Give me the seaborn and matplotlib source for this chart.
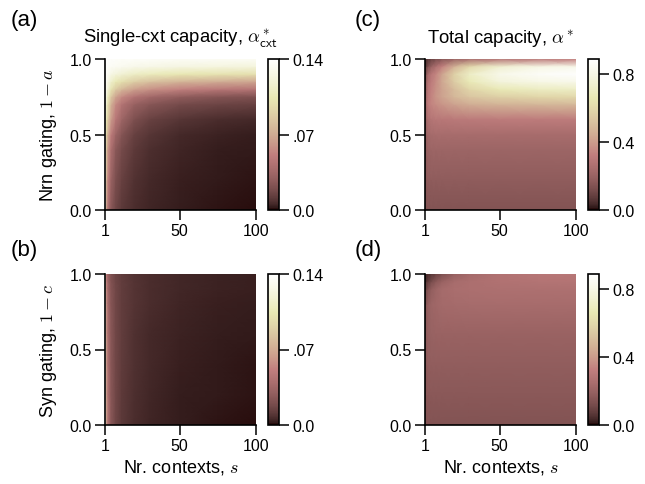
import numpy as np
import matplotlib
matplotlib.use("Agg")
import matplotlib.pyplot as plt
import seaborn as sns

# grid: columns = nr. contexts, rows = gating level
contexts = [1, 2, 3, 5, 8, 12, 20, 30, 50, 75, 100]
nrn_gating = [0.0, 0.2, 0.4, 0.5, 0.6, 0.7, 0.75, 0.8, 0.85, 0.9, 0.95, 1.0]
syn_gating = [0.0, 0.2, 0.4, 0.6, 0.8, 0.9, 0.95, 1.0]

# (a) single-context capacity, neuronal gating
cxt_cap_nrn = [
    [0.137, 0.065, 0.042, 0.025, 0.016, 0.0108, 0.0068, 0.0046, 0.0028, 0.0018, 0.0014],
    [0.140, 0.078, 0.052, 0.032, 0.0205, 0.014, 0.0086, 0.0058, 0.0035, 0.0024, 0.0018],
    [0.140, 0.086, 0.061, 0.040, 0.026, 0.0182, 0.0112, 0.0075, 0.0047, 0.0032, 0.0024],
    [0.140, 0.0924, 0.070, 0.049, 0.0336, 0.0238, 0.014, 0.0098, 0.006, 0.0042, 0.0032],
    [0.140, 0.105, 0.0868, 0.063, 0.0462, 0.0336, 0.021, 0.0145, 0.0095, 0.0068, 0.0055],
    [0.140, 0.119, 0.098, 0.0728, 0.056, 0.0434, 0.0315, 0.025, 0.0185, 0.0155, 0.014],
    [0.140, 0.1232, 0.1064, 0.084, 0.0672, 0.056, 0.0435, 0.036, 0.028, 0.024, 0.0215],
    [0.140, 0.1288, 0.119, 0.1008, 0.0868, 0.077, 0.0655, 0.059, 0.052, 0.047, 0.0445],
    [0.140, 0.133, 0.126, 0.1148, 0.105, 0.098, 0.0882, 0.0812, 0.0742, 0.070, 0.0672],
    [0.140, 0.1358, 0.133, 0.126, 0.1218, 0.1176, 0.112, 0.1078, 0.1036, 0.1008, 0.0994],
    [0.140, 0.1386, 0.1372, 0.1344, 0.133, 0.1316, 0.1288, 0.1274, 0.1246, 0.1232, 0.1218],
    [0.140, 0.1386, 0.1386, 0.1372, 0.1372, 0.1358, 0.1358, 0.1358, 0.1344, 0.1344, 0.1344],
]

# (c) total capacity, neuronal gating
tot_cap_nrn = [
    [0.14, 0.145, 0.145, 0.145, 0.145, 0.145, 0.145, 0.145, 0.145, 0.145, 0.145],
    [0.14, 0.17, 0.175, 0.175, 0.175, 0.175, 0.175, 0.175, 0.175, 0.175, 0.175],
    [0.13, 0.19, 0.205, 0.21, 0.21, 0.21, 0.21, 0.21, 0.21, 0.21, 0.21],
    [0.12, 0.2, 0.225, 0.235, 0.24, 0.24, 0.24, 0.24, 0.24, 0.24, 0.24],
    [0.11, 0.22, 0.26, 0.28, 0.29, 0.295, 0.3, 0.305, 0.31, 0.31, 0.31],
    [0.09, 0.25, 0.31, 0.34, 0.36, 0.38, 0.42, 0.45, 0.47, 0.48, 0.49],
    [0.08, 0.24, 0.3, 0.34, 0.38, 0.42, 0.48, 0.53, 0.57, 0.59, 0.6],
    [0.07, 0.22, 0.29, 0.33, 0.37, 0.42, 0.5, 0.59, 0.67, 0.7, 0.71],
    [0.06, 0.2, 0.27, 0.31, 0.36, 0.43, 0.55, 0.67, 0.77, 0.8, 0.82],
    [0.05, 0.17, 0.24, 0.29, 0.34, 0.42, 0.57, 0.71, 0.82, 0.86, 0.88],
    [0.035, 0.09, 0.14, 0.2, 0.26, 0.33, 0.46, 0.6, 0.74, 0.8, 0.82],
    [0.02, 0.04, 0.06, 0.09, 0.12, 0.15, 0.2, 0.24, 0.28, 0.3, 0.32],
]

# (b) single-context capacity, synaptic gating
cxt_cap_syn = [
    [0.137, 0.065, 0.042, 0.025, 0.016, 0.0108, 0.0068, 0.0046, 0.0028, 0.0018, 0.0014],
    [0.137, 0.064, 0.042, 0.025, 0.0165, 0.0114, 0.0074, 0.0051, 0.0032, 0.0022, 0.0017],
    [0.136, 0.063, 0.041, 0.025, 0.0167, 0.0118, 0.0078, 0.0055, 0.0036, 0.0026, 0.0021],
    [0.133, 0.061, 0.040, 0.025, 0.0168, 0.0122, 0.0082, 0.0060, 0.0041, 0.0030, 0.0025],
    [0.126, 0.058, 0.038, 0.024, 0.0168, 0.0124, 0.0088, 0.0066, 0.0047, 0.0036, 0.0031],
    [0.119, 0.055, 0.036, 0.023, 0.0165, 0.0124, 0.0090, 0.0069, 0.0050, 0.0039, 0.0034],
    [0.112, 0.052, 0.034, 0.022, 0.016, 0.0121, 0.0088, 0.0068, 0.0050, 0.0040, 0.0035],
    [0.105, 0.048, 0.032, 0.021, 0.015, 0.0115, 0.0085, 0.0066, 0.0050, 0.0040, 0.0035],
]

# (d) total capacity, synaptic gating
tot_cap_syn = [
    [0.14, 0.145, 0.145, 0.145, 0.145, 0.145, 0.145, 0.145, 0.145, 0.145, 0.145],
    [0.14, 0.16, 0.162, 0.163, 0.163, 0.163, 0.163, 0.163, 0.163, 0.163, 0.163],
    [0.13, 0.17, 0.178, 0.18, 0.18, 0.18, 0.18, 0.18, 0.18, 0.18, 0.18],
    [0.12, 0.18, 0.19, 0.197, 0.2, 0.2, 0.2, 0.2, 0.2, 0.2, 0.2],
    [0.1, 0.17, 0.19, 0.21, 0.222, 0.23, 0.235, 0.238, 0.24, 0.24, 0.24],
    [0.05, 0.11, 0.14, 0.18, 0.21, 0.235, 0.25, 0.255, 0.26, 0.26, 0.26],
    [0.03, 0.06, 0.08, 0.12, 0.16, 0.2, 0.24, 0.255, 0.27, 0.275, 0.275],
    [0.02, 0.03, 0.04, 0.06, 0.09, 0.13, 0.19, 0.23, 0.27, 0.29, 0.29],
]

sns.set_style("ticks")
plt.rcParams["font.family"] = ["Liberation Sans", "DejaVu Sans"]
plt.rcParams["mathtext.fontset"] = "cm"
plt.rcParams["axes.edgecolor"] = "black"
plt.rcParams["xtick.color"] = "black"
plt.rcParams["ytick.color"] = "black"
plt.rcParams["text.color"] = "black"
plt.rcParams["axes.labelcolor"] = "black"

cmap = sns.color_palette("pink", as_cmap=True)
W, H = 645, 485
fig = plt.figure(figsize=(W / 100, H / 100), dpi=100)


def panel(x0, y1, z, gating, vmax, cticks, clabels, title=None, ylabel=None, xlabel=None):
    # x0, y1: left and bottom edge of the axes in pixels (from top-left)
    ax = fig.add_axes([x0 / W, 1 - y1 / H, 151 / W, 151 / H])
    mesh = ax.pcolormesh(contexts, gating, np.array(z), shading="gouraud",
                         cmap=cmap, vmin=0, vmax=vmax)
    ax.set_xlim(1, 100)
    ax.set_ylim(0, 1)
    ax.set_xticks([1, 50, 100])
    ax.set_yticks([0, 0.5, 1.0])
    ax.set_yticklabels(["0.0", "0.5", "1.0"])
    sns.despine(ax=ax)
    for sp in ax.spines.values():
        sp.set_linewidth(1.2)
    ax.tick_params(length=7, width=1.1, pad=2.5, labelsize=11.5)
    if title:
        ax.set_title(title, fontsize=13.3, pad=12)
    if ylabel:
        ax.set_ylabel(ylabel, fontsize=13)
        ax.yaxis.set_label_coords(-0.307, 0.5)
    if xlabel:
        ax.set_xlabel(xlabel, fontsize=13)
        ax.xaxis.set_label_coords(0.5, -0.215)

    cax = fig.add_axes([(x0 + 163) / W, 1 - y1 / H, 11 / W, 151 / H])
    cb = fig.colorbar(mesh, cax=cax, ticks=cticks)
    cb.ax.set_yticklabels(clabels)
    cb.outline.set_linewidth(1.2)
    cb.outline.set_edgecolor("black")
    cb.ax.tick_params(length=7, width=1.1, pad=2.5, labelsize=11.5)
    return ax


cap_ticks = [0.0, 0.07, 0.14]
cap_labels = ["0.0", ".07", "0.14"]
tot_ticks = [0.0, 0.4, 0.8]
tot_labels = ["0.0", "0.4", "0.8"]

panel(105, 211, cxt_cap_nrn, nrn_gating, 0.14, cap_ticks, cap_labels,
      title=r"Single-cxt capacity, $\alpha^*_{\mathsf{cxt}}$",
      ylabel=r"Nrn gating, $1-a$")
panel(425, 211, tot_cap_nrn, nrn_gating, 0.89, tot_ticks, tot_labels,
      title=r"Total capacity, $\alpha^*$")
panel(105, 426, cxt_cap_syn, syn_gating, 0.14, cap_ticks, cap_labels,
      ylabel=r"Syn gating, $1-c$", xlabel=r"Nr. contexts, $s$")
panel(425, 426, tot_cap_syn, syn_gating, 0.89, tot_ticks, tot_labels,
      xlabel=r"Nr. contexts, $s$")

for letter, lx, ly in [("(a)", 11, 10), ("(c)", 355, 10), ("(b)", 11, 240), ("(d)", 355, 240)]:
    fig.text(lx / W, 1 - ly / H, letter, fontsize=16, va="top", ha="left")

fig.savefig("out.png", dpi=100)
